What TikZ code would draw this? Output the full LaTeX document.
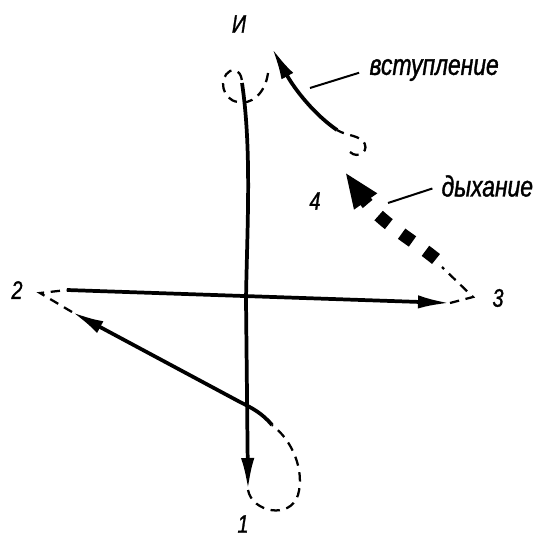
\documentclass[tikz,border=0pt]{standalone}
\usepackage{fontspec}
\setmainfont{Liberation Sans}[FakeStretch=0.78,FakeBold=1.2]
\usetikzlibrary{arrows.meta}
\begin{document}
\begin{tikzpicture}[x=0.75pt,y=-0.75pt,
  stroke/.style={line width=2.8pt},
  guide/.style={line width=1.7pt,dash pattern=on 7pt off 5pt},
  head/.style={-{Latex[length=24pt,width=10pt]}},
  lbl/.style={font=\fontsize{22}{24}\selectfont\itshape,inner sep=1pt},
  num/.style={font=\fontsize{19}{21}\selectfont\itshape,inner sep=1pt}]
\useasboundingbox (0,0) rectangle (538,542);

% turning points
\coordinate (top) at (272,48);
\coordinate (loopA) at (268,73);
\coordinate (down) at (242,83);
\coordinate (one) at (248,490);
\coordinate (back) at (272,425);
\coordinate (two) at (72,312);
\coordinate (twoT) at (40,293);
\coordinate (right) at (67,290);
\coordinate (three) at (450,303);
\coordinate (threeT) at (473,297);
\coordinate (breath) at (442,267);
\coordinate (bstart) at (436,259);
\coordinate (four) at (345,172);
\coordinate (upA) at (337,130);
\coordinate (loopB) at (350,152);

% labels
\node[num] (nI) at (239,24) {И};
\node[num] (n1) at (243,524) {1};
\node[num] (n2) at (17,290) {2};
\node[num] (n3) at (498,298) {3};
\node[num] (n4) at (315,201) {4};
\node[lbl,anchor=west] (vst) at (368,70) {вступление};
\node[lbl,anchor=west] (dyh) at (440,186) {дыхание};
\coordinate (vstEnd) at (310,88);
\coordinate (dyhEnd) at (388,203);
\draw[line width=1.5pt,shorten >=7pt] (vstEnd) -- (vst.west);
\draw[line width=1.5pt,shorten >=6pt] (dyhEnd) -- (dyh.west);

% top loop and stroke down to 1
\draw[guide] (loopA) .. controls (265,95) and (250,105) .. (238,102)
  .. controls (222,100) and (218,78) .. (230,71)
  .. controls (238,68) and (242,75) .. (down);
\draw[stroke,head] (down) .. controls (252,150) and (247,230) .. (246,300) -- (one);

% loop at 1 and stroke to 2
\draw[guide] (one) .. controls (252,512) and (290,520) .. (298,495)
  .. controls (305,470) and (292,440) .. (back);
\draw[stroke,head] (back) .. controls (262,413) and (252,408) .. (240,402) -- (two);

% 2 -> 3
\draw[guide] (two) -- (twoT) -- (right);
\draw[stroke,head] (right) -- (three);

% breath 3 -> 4
\draw[guide] (three) -- (threeT) -- (breath);
\draw[line width=9.5pt,dash pattern=on 10pt off 12pt,-{Triangle[length=27pt,width=19pt]}]
  (bstart) .. controls (410,238) and (380,222) .. (four);

% loop at 4 and upbeat to И
\draw[guide] (loopB) .. controls (358,160) and (372,150) .. (362,140)
  .. controls (355,135) and (345,135) .. (upA);
\draw[stroke,head] (upA) .. controls (315,115) and (295,90) .. (top);
\end{tikzpicture}
\end{document}
